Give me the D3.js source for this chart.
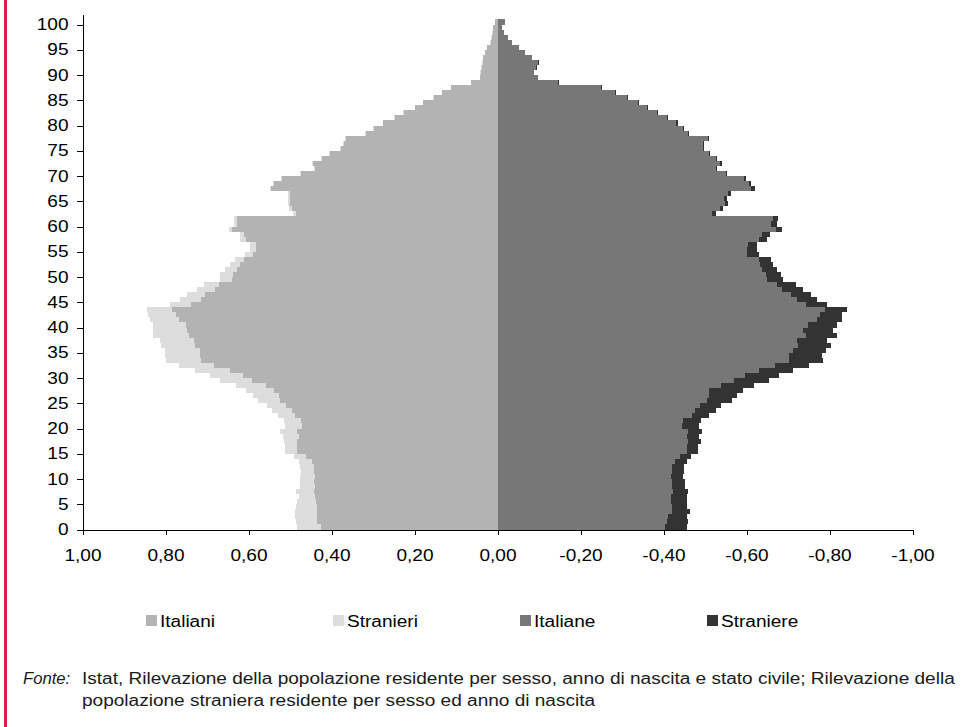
<!DOCTYPE html>
<html>
<head>
<meta charset="utf-8">
<script src="https://cdn.jsdelivr.net/npm/d3@7"></script>
<style>
  html, body { margin: 0; padding: 0; background: #fff; }
  svg { display: block; }
  text { font-family: "Liberation Sans", Arial, Helvetica, sans-serif; }
</style>
</head>
<body>
<svg id="chart" width="977" height="727"></svg>
<script>
// ---- DATA (ages 0..100) ----
const ages = d3.range(0, 101);
const italiani = [0.425,0.435,0.436,0.436,0.436,0.438,0.439,0.441,0.440,0.441,
  0.440,0.442,0.443,0.447,0.461,0.483,0.483,0.483,0.479,0.483,
  0.471,0.473,0.487,0.495,0.509,0.525,0.527,0.538,0.557,0.592,
  0.613,0.645,0.684,0.714,0.718,0.718,0.728,0.732,0.744,0.747,
  0.750,0.768,0.774,0.784,0.739,0.714,0.704,0.680,0.670,0.640,
  0.637,0.628,0.620,0.610,0.589,0.581,0.581,0.605,0.610,0.640,
  0.628,0.628,0.485,0.495,0.499,0.499,0.499,0.545,0.538,0.519,
  0.473,0.439,0.444,0.423,0.404,0.377,0.371,0.365,0.318,0.297,
  0.276,0.248,0.226,0.199,0.179,0.154,0.133,0.112,0.063,0.041,
  0.040,0.038,0.036,0.034,0.029,0.025,0.016,0.014,0.012,0.010,
  0.005];
const stranieri = [0.058,0.050,0.051,0.051,0.050,0.044,0.040,0.044,0.036,0.035,
  0.036,0.032,0.032,0.032,0.030,0.028,0.028,0.032,0.038,0.042,
  0.040,0.041,0.043,0.048,0.046,0.053,0.062,0.067,0.072,0.076,
  0.079,0.083,0.083,0.085,0.084,0.083,0.083,0.081,0.085,0.082,
  0.079,0.070,0.067,0.061,0.051,0.050,0.044,0.043,0.038,0.028,
  0.031,0.028,0.024,0.022,0.019,0.015,0.015,0.015,0.011,0.008,
  0.008,0.008,0.008,0.008,0.007,0.005,0.005,0.004,0.003,0.003,
  0.002,0.002,0.002,0.002,0.002,0.002,0.002,0.002,0.002,0.002,
  0.001,0.001,0.001,0.001,0.001,0.001,0.001,0.001,0.001,0.001,
  0.001,0.001,0.001,0.001,0.001,0.001,0.001,0.001,0.001,0.001,
  0.001];
const italiane = [0.403,0.409,0.411,0.420,0.420,0.417,0.417,0.424,0.420,0.420,
  0.419,0.420,0.420,0.427,0.439,0.457,0.456,0.460,0.456,0.460,
  0.445,0.448,0.468,0.475,0.488,0.504,0.510,0.510,0.538,0.571,
  0.596,0.630,0.668,0.703,0.703,0.711,0.725,0.721,0.744,0.737,
  0.749,0.771,0.776,0.789,0.743,0.721,0.708,0.686,0.674,0.649,
  0.646,0.638,0.632,0.629,0.602,0.600,0.604,0.629,0.637,0.670,
  0.658,0.665,0.516,0.536,0.547,0.546,0.555,0.612,0.606,0.594,
  0.550,0.526,0.537,0.526,0.510,0.495,0.495,0.507,0.459,0.447,
  0.431,0.409,0.384,0.360,0.339,0.311,0.282,0.250,0.146,0.097,
  0.088,0.093,0.098,0.083,0.066,0.051,0.035,0.025,0.015,0.011,
  0.017];
const straniere = [0.053,0.051,0.046,0.043,0.037,0.040,0.039,0.036,0.032,0.032,
  0.029,0.029,0.029,0.029,0.028,0.027,0.027,0.030,0.029,0.032,
  0.040,0.042,0.042,0.051,0.051,0.062,0.066,0.082,0.079,0.083,
  0.082,0.083,0.083,0.082,0.078,0.080,0.078,0.074,0.073,0.072,
  0.068,0.058,0.055,0.054,0.052,0.050,0.048,0.049,0.045,0.040,
  0.038,0.036,0.033,0.029,0.027,0.025,0.022,0.021,0.019,0.016,
  0.015,0.012,0.010,0.008,0.008,0.008,0.007,0.008,0.006,0.005,
  0.003,0.003,0.003,0.003,0.003,0.003,0.003,0.003,0.003,0.003,
  0.003,0.003,0.003,0.003,0.003,0.003,0.003,0.003,0.003,0.001,
  0.001,0.001,0.001,0.001,0.001,0.001,0.001,0.001,0.001,0.001,
  0.001];
const seriesNames = ["Italiani", "Stranieri", "Italiane", "Straniere"];
const yTickValues = d3.range(0, 101, 5);
const xTickValues = [1, 0.8, 0.6, 0.4, 0.2, 0, -0.2, -0.4, -0.6, -0.8, -1];
const sourceLabel = "Fonte:";
const sourceLine1 = "Istat, Rilevazione della popolazione residente per sesso, anno di nascita e stato civile; Rilevazione della";
const sourceLine2 = "popolazione straniera residente per sesso ed anno di nascita";

// ---- STYLE ----
const colors = { "Italiani": "#b3b3b3", "Stranieri": "#dddddd", "Italiane": "#777777", "Straniere": "#333333" };
const svg = d3.select("#chart");
const FS = 16, K = 1.19; // font size and horizontal glyph stretch of the original

function stretch(sel, k) {
  sel.each(function () {
    const t = d3.select(this);
    const x0 = +t.attr("x") || 0, y0 = +t.attr("y") || 0;
    t.attr("x", 0).attr("y", 0).attr("transform", `translate(${x0},${y0}) scale(${k},1)`);
  });
}

const x = d3.scaleLinear().domain([1, -1]).range([82.5, 912.5]);
const y = d3.scaleLinear().domain([0, 102]).range([529.5, 14.4]);

// left border line
svg.append("rect").attr("x", 4).attr("y", 0).attr("width", 3).attr("height", 727).attr("fill", "#d81b4a");

const gBars = svg.append("g").attr("shape-rendering", "crispEdges");
function band(a) {
  const y0 = Math.round(y(a + 1)), y1 = Math.round(y(a));
  return [y0, y1 - y0];
}
function drawSeries(name, startFn, endFn) {
  gBars.append("g").selectAll("rect").data(ages).join("rect")
    .attr("x", a => Math.round(Math.min(x(startFn(a)), x(endFn(a)))))
    .attr("width", a => Math.max(0, Math.round(Math.max(x(startFn(a)), x(endFn(a)))) - Math.round(Math.min(x(startFn(a)), x(endFn(a))))))
    .attr("y", a => band(a)[0])
    .attr("height", a => band(a)[1])
    .attr("fill", colors[name]);
}
drawSeries("Italiani", a => 0, a => italiani[a]);
drawSeries("Stranieri", a => italiani[a], a => italiani[a] + stranieri[a]);
drawSeries("Italiane", a => 0, a => -italiane[a]);
drawSeries("Straniere", a => -italiane[a], a => -(italiane[a] + straniere[a]));

// axes
const loc = d3.formatLocale({ decimal: ",", thousands: ".", grouping: [3], currency: ["", "€"], minus: "-" });
const fmt = loc.format(".2f");

const gy = svg.append("g").attr("transform", "translate(82.5,0)")
  .call(d3.axisLeft(y).tickValues(yTickValues).tickSize(6).tickSizeOuter(0).tickPadding(8).tickFormat(d3.format("d")));
const gx = svg.append("g").attr("transform", "translate(0,529.5)")
  .call(d3.axisBottom(x).tickValues(xTickValues).tickSize(5).tickSizeOuter(0).tickPadding(15).tickFormat(fmt));
[gy, gx].forEach(g => {
  g.select(".domain").attr("stroke", "#000").attr("shape-rendering", "crispEdges");
  g.selectAll(".tick line").attr("stroke", "#000").attr("shape-rendering", "crispEdges");
  g.selectAll("text").attr("font-size", FS).attr("fill", "#000")
    .style("font-family", '"Liberation Sans", Arial, sans-serif');
  stretch(g.selectAll("text"), K);
});

// legend
const legendX = [146, 333, 520, 707];
const lg = svg.append("g");
seriesNames.forEach((n, i) => {
  lg.append("rect").attr("x", legendX[i]).attr("y", 615).attr("width", 11).attr("height", 11)
    .attr("fill", colors[n]).attr("shape-rendering", "crispEdges");
  lg.append("text").attr("x", legendX[i] + 14).attr("y", 627).attr("font-size", FS)
    .attr("fill", "#000").text(n);
});
stretch(lg.selectAll("text"), K);

// source note
const src = svg.append("g").attr("fill", "#1a1a1a");
const t0 = src.append("text").attr("x", 23).attr("y", 684).attr("font-size", FS).attr("font-style", "italic").text(sourceLabel);
const t1 = src.append("text").attr("x", 82).attr("y", 684).attr("font-size", FS).text(sourceLine1);
const t2 = src.append("text").attr("x", 82).attr("y", 706).attr("font-size", FS).text(sourceLine2);
const kf = Math.min(1.25, (955 - 82) / t1.node().getComputedTextLength());
stretch(t1, kf);
stretch(t2, kf);
stretch(t0, 1.04);
</script>
</body>
</html>
